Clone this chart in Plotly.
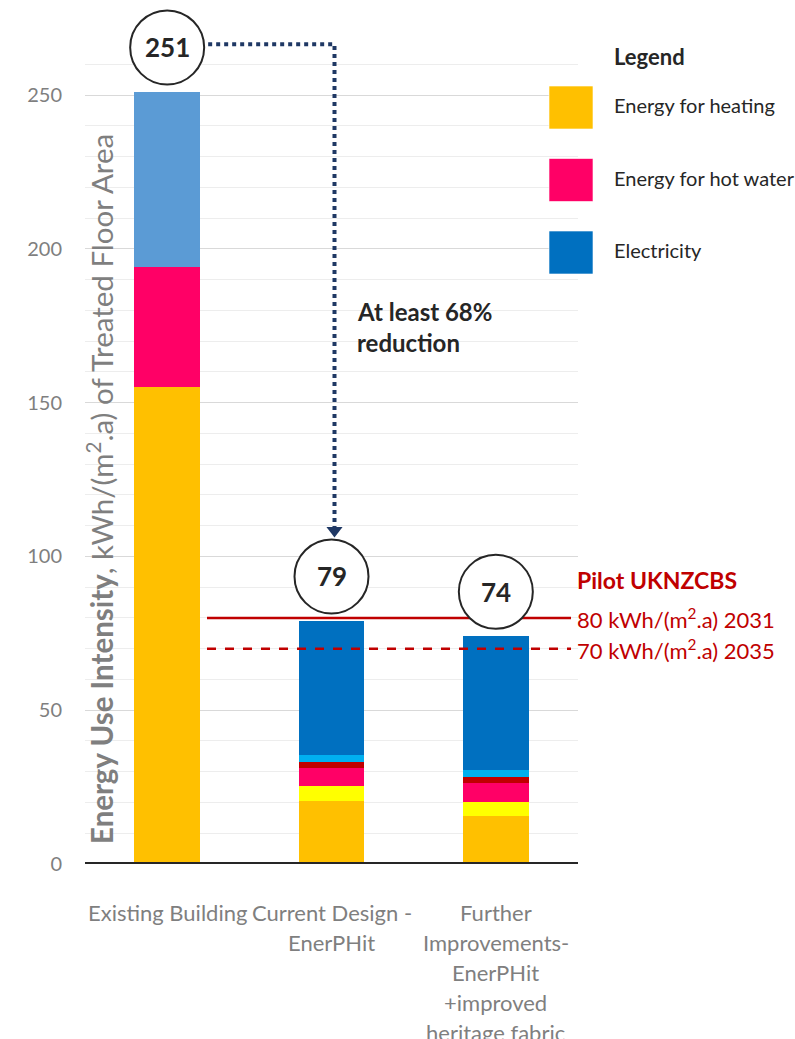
import plotly.graph_objects as go

# ---------------- data ----------------
categories = ["Existing Building",
              "Current Design -<br>EnerPHit",
              "Further<br>Improvements-<br>EnerPHit<br>+improved<br>heritage fabric"]
heating = [155, 20.6, 15.6]
heating_extra = [0, 4.8, 4.6]
hot_water = [39, 5.9, 6.0]
hot_water_extra = [0, 1.9, 2.0]
electricity_extra = [0, 2.4, 2.4]
electricity = [57, 43.4, 43.4]
y_ticks = [0, 50, 100, 150, 200, 250]
y_minor = [v for v in range(10, 261, 10) if v % 50]
targets = [80, 70]
target_labels = ["80 kWh/(m<sup>2</sup>.a) 2031", "70 kWh/(m<sup>2</sup>.a) 2035"]
target_title = "Pilot UKNZCBS"
legend_labels = ["Energy for heating", "Energy for hot water", "Electricity"]
reduction_text = ["At least 68%", "reduction"]

# ---------------- styles ----------------
FONT = "Lato"
C_HEAT, C_HEAT2 = "#FFC000", "#FFFF00"
C_HW, C_HW2 = "#FF0066", "#C00000"
C_EL2 = "#00B0F0"
C_EL = ["#5B9BD5", "#0070C0", "#0070C0"]
LEG_COLORS = [C_HEAT, C_HW, "#0070C0"]
NAVY = "#1F3864"
RED = "#C00000"
GREY = "#7F7F7F"
DARK = "#262626"

W, H = 795, 1039
L, R, T, B = 85, 217, 9, 175
YMAX = 278
PW, PH = W - L - R, H - T - B
PXU = PH / YMAX  # pixels per unit


def px_x(px):
    return (px - L) / PW


def px_y(py):
    return (H - B - py) / PH


x = list(range(len(categories)))
totals = [round(sum(v)) for v in zip(heating, heating_extra, hot_water, hot_water_extra,
                                      electricity_extra, electricity)]

fig = go.Figure()
series = [
    ("Energy for heating", heating, C_HEAT),
    ("Heating (other)", heating_extra, C_HEAT2),
    ("Energy for hot water", hot_water, C_HW),
    ("Hot water (other)", hot_water_extra, C_HW2),
    ("Electricity (other)", electricity_extra, C_EL2),
    ("Electricity", electricity, C_EL),
]
for name, vals, col in series:
    fig.add_trace(go.Bar(x=x, y=vals, name=name, marker=dict(color=col, line=dict(width=0)),
                         width=0.4, showlegend=False, hoverinfo="y+name"))

# ---- reduction arrow (dotted) ----
circ_off = 14.5           # circle centre above bar total (units)
rad = 37                  # circle radius (px)
y_top = totals[0] + circ_off + 1
x_start = 0 + (rad + 4) / (PW / 3)
x_end = 1 + 3 / (PW / 3)
tip = totals[1] + circ_off + (rad + 2) / PXU
head_r = 7
y_head = tip + head_r / PXU
fig.add_trace(go.Scatter(x=[x_start, x_end, x_end], y=[y_top, y_top, y_head + 2 / PXU],
                         mode="lines", line=dict(color=NAVY, width=4, dash="dot"),
                         showlegend=False, hoverinfo="skip"))
fig.add_trace(go.Scatter(x=[x_end], y=[y_head], mode="markers",
                         marker=dict(symbol="triangle-down", size=2 * head_r, color=NAVY,
                                     line=dict(width=0)),
                         showlegend=False, hoverinfo="skip"))

shapes = []
annotations = []

# zero line
shapes.append(dict(type="line", xref="paper", yref="y", x0=0, x1=1, y0=0, y1=0,
                   line=dict(color=DARK, width=4), layer="above"))

# target lines
for t, dash in zip(targets, ["solid", "dash"]):
    shapes.append(dict(type="line", xref="paper", yref="y", x0=px_x(207), x1=px_x(571),
                       y0=t, y1=t, line=dict(color=RED, width=2.5, dash=dash), layer="above"))
for t, lab in zip(targets, target_labels):
    annotations.append(dict(xref="paper", yref="y", x=px_x(575), y=t, yshift=-1, text=lab,
                            showarrow=False, xanchor="left", yanchor="middle",
                            font=dict(family=FONT, size=22, color=RED)))
annotations.append(dict(xref="paper", yref="y", x=px_x(575), y=targets[0], yshift=38,
                        text="<b>" + target_title + "</b>", showarrow=False,
                        xanchor="left", yanchor="middle",
                        font=dict(family=FONT, size=23, color=RED)))

# total circles
for xi, tot in zip(x, totals):
    cy = tot + circ_off
    shapes.append(dict(type="circle", xref="x", yref="y", xsizemode="pixel", ysizemode="pixel",
                       xanchor=xi, yanchor=cy, x0=-rad, x1=rad, y0=-rad, y1=rad,
                       line=dict(color=DARK, width=2), fillcolor="white", layer="above"))
    annotations.append(dict(xref="x", yref="y", x=xi, y=cy, text="<b>%d</b>" % tot,
                            showarrow=False, font=dict(family=FONT, size=26, color=DARK)))

# reduction text
for j, line in enumerate(reduction_text):
    annotations.append(dict(xref="x", yref="paper", x=x_end, xshift=20, y=px_y(311 + 32 * j),
                            text="<b>" + line + "</b>", showarrow=False, xanchor="left",
                            yanchor="middle", font=dict(family=FONT, size=24, color=DARK)))

# legend (custom)
annotations.append(dict(xref="paper", yref="paper", x=px_x(612), y=px_y(57), text="<b>Legend</b>",
                        showarrow=False, xanchor="left", yanchor="middle",
                        font=dict(family=FONT, size=22, color=DARK)))
for k, (lab, col) in enumerate(zip(legend_labels, LEG_COLORS)):
    top = 86 + 72.5 * k
    shapes.append(dict(type="rect", xref="paper", yref="paper", x0=px_x(549), x1=px_x(593),
                       y0=px_y(top + 43), y1=px_y(top), fillcolor=col,
                       line=dict(color="rgba(255,255,255,0.6)", width=1), layer="above"))
    annotations.append(dict(xref="paper", yref="paper", x=px_x(612), y=px_y(top + 19), text=lab,
                            showarrow=False, xanchor="left", yanchor="middle",
                            font=dict(family=FONT, size=20, color=DARK)))

# x category labels
for xi, lab in zip(x, categories):
    for j, line in enumerate(lab.split("<br>")):
        annotations.append(dict(xref="x", yref="paper", x=xi, y=px_y(912 + 30 * j), text=line,
                                showarrow=False, xanchor="center", yanchor="middle",
                                font=dict(family=FONT, size=22, color=GREY)))

# y-axis title
annotations.append(dict(xref="paper", yref="paper", x=px_x(100), y=px_y(846),
                        text="<b>Energy Use Intensity</b>, kWh/(m<sup>2</sup>.a) of Treated Floor Area",
                        textangle=-90, showarrow=False, xanchor="center", yanchor="bottom",
                        font=dict(family=FONT, size=29.5, color=GREY)))

fig.update_layout(
    width=W, height=H, margin=dict(l=L, r=R, t=T, b=B, pad=0),
    barmode="stack", plot_bgcolor="white", paper_bgcolor="white",
    font=dict(family=FONT, color=GREY),
    shapes=shapes, annotations=annotations, showlegend=False,
    xaxis=dict(range=[-0.5, 2.5], tickvals=x, showticklabels=False, showgrid=False,
               zeroline=False, showline=False, ticks=""),
    yaxis=dict(range=[0, YMAX], tickvals=y_ticks, ticktext=[str(v) for v in y_ticks],
               showgrid=True, gridcolor="#D9D9D9", gridwidth=1, zeroline=False, showline=False,
               ticks="outside", ticklen=18, tickcolor="rgba(0,0,0,0)",
               tickfont=dict(family=FONT, size=20, color=GREY),
               minor=dict(tickvals=y_minor, showgrid=True, gridcolor="#EDEDED", gridwidth=1,
                          ticks="")),
)

fig.write_html("out.html")
